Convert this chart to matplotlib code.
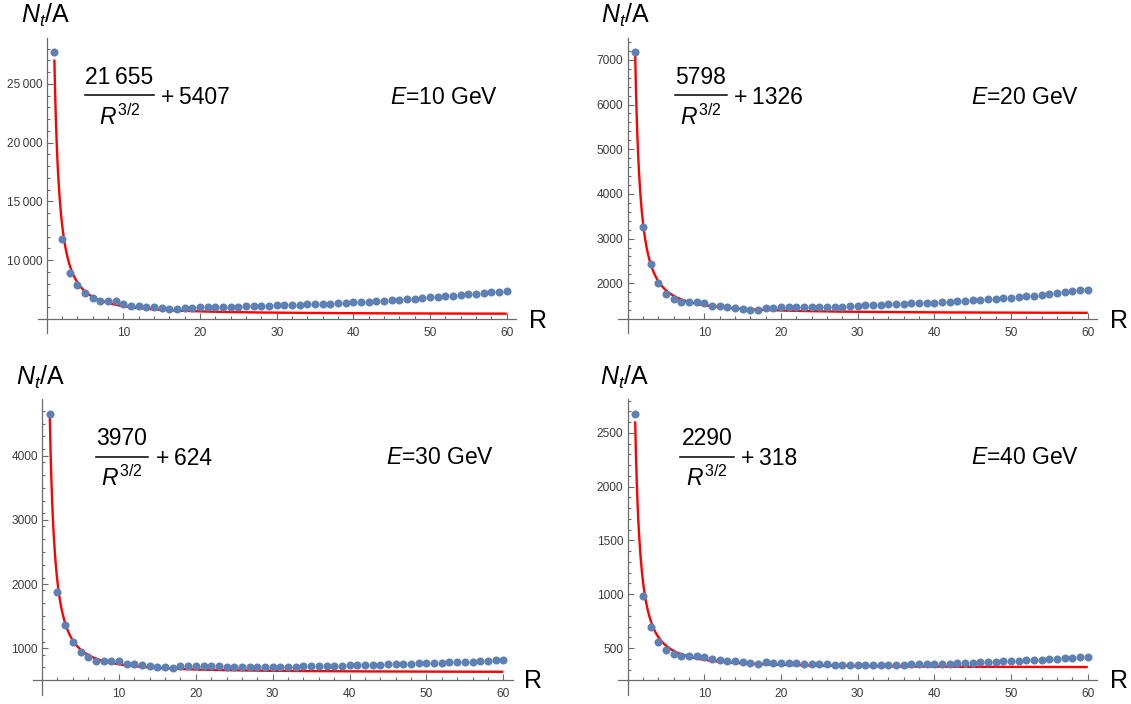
import numpy as np
import matplotlib
matplotlib.use("Agg")
import matplotlib.pyplot as plt
from matplotlib.ticker import FixedLocator
from matplotlib.lines import Line2D

plt.rcParams['font.family'] = ['Liberation Sans', 'DejaVu Sans']
plt.rcParams['mathtext.fontset'] = 'custom'
plt.rcParams['mathtext.rm'] = 'Liberation Sans'
plt.rcParams['mathtext.it'] = 'Liberation Sans:italic'
plt.rcParams['mathtext.bf'] = 'Liberation Sans:bold'

R = list(range(1, 61))

energies = [10, 20, 30, 40]
fit_a = [21655, 5798, 3970, 2290]
fit_b = [5407, 1326, 624, 318]
fit_a_text = ["21\u2009655", "5798", "3970", "2290"]

n_e10 = [27700, 11800, 8880, 7850, 7210, 6810, 6560, 6490, 6490, 6300,
         6120, 6100, 6010, 5980, 5900, 5860, 5810, 5950, 5950, 6010,
         6010, 6030, 6030, 6040, 6060, 6080, 6090, 6110, 6130, 6150,
         6170, 6190, 6210, 6240, 6260, 6290, 6310, 6340, 6370, 6410,
         6440, 6480, 6520, 6560, 6600, 6640, 6690, 6730, 6780, 6830,
         6880, 6930, 6980, 7040, 7090, 7150, 7210, 7270, 7330, 7400]
n_e20 = [7180, 3250, 2430, 2010, 1770, 1655, 1590, 1575, 1575, 1550,
         1500, 1485, 1460, 1445, 1425, 1410, 1410, 1455, 1455, 1470,
         1470, 1465, 1462, 1462, 1470, 1470, 1472, 1478, 1485, 1498,
         1505, 1512, 1520, 1528, 1535, 1542, 1548, 1555, 1560, 1566,
         1575, 1585, 1595, 1605, 1615, 1625, 1637, 1648, 1660, 1672,
         1690, 1707, 1725, 1742, 1760, 1778, 1797, 1817, 1838, 1860]
n_e30 = [4650, 1875, 1360, 1095, 948, 860, 808, 795, 805, 795,
         755, 750, 735, 720, 705, 700, 690, 730, 725, 730,
         730, 725, 717, 712, 712, 707, 705, 700, 705, 705,
         708, 712, 712, 717, 717, 720, 722, 725, 728, 733,
         736, 739, 742, 745, 750, 753, 756, 759, 762, 766,
         770, 774, 778, 782, 786, 791, 797, 803, 810, 818]
n_e40 = [2680, 980, 700, 559, 486, 440, 428, 422, 428, 416,
         400, 391, 381, 375, 369, 359, 353, 366, 359, 359,
         362, 356, 350, 350, 350, 347, 344, 341, 341, 344,
         341, 341, 344, 344, 344, 344, 347, 347, 350, 350,
         352, 353, 356, 359, 362, 366, 369, 372, 375, 378,
         381, 384, 388, 391, 396, 400, 405, 410, 415, 420]
series = [n_e10, n_e20, n_e30, n_e40]

x_major = [10, 20, 30, 40, 50, 60]
y_major = [[10000, 15000, 20000, 25000],
           [2000, 3000, 4000, 5000, 6000, 7000],
           [1000, 2000, 3000, 4000],
           [500, 1000, 1500, 2000, 2500]]
y_minor_step = [1000, 200, 200, 100]
y_origin = [5000, 1200, 500, 200]
y_lims = [(3784, 28870), (880, 7482), (271, 4878), (63, 2813)]

W, H = 1131, 704
fig = plt.figure(figsize=(W / 100, H / 100), dpi=100)

# panel boxes in pixels: left, top, right, bottom
boxes = [(37.5, 38.3, 516.0, 333.3), (618.3, 38.3, 1097.0, 333.3),
         (32.9, 399.3, 512.5, 695.0), (618.3, 399.3, 1097.0, 695.0)]
# fraction layout (pixels)
line_x0 = [85.0, 674.7, 95.7, 680.2]
line_x1 = [154.0, 726.8, 148.2, 734.0]
line_y = [95.3, 95.3, 456.7, 456.7]
num_dy = -18.3
den_dy = 21.5
plus_x = [161.0, 734.0, 156.5, 741.0]
plus_dy = 1.8
e_x = [390, 971.5, 385.7, 971.5]
e_y = [97, 97, 458, 458]
ylab_x = [20.7, 600.8, 16.0, 600.0]
ylab_y = [15, 15, 377, 377]
rlab_x = [528.6, 1110, 524, 1110]
rlab_y = [321, 321, 681, 681]

def fx(x):
    return x / W

def fy(y):
    return 1 - y / H

axis_col = '#6b6b6b'
lab_col = '#3c3c3c'
dot_col = '#5E81B5'

def fmt(v):
    if v >= 10000:
        return f"{v:,}".replace(",", "\u2009")
    return str(v)

FS = 16.5

for i in range(4):
    l, t, r, b = boxes[i]
    ax = fig.add_axes([fx(l), fy(b), (r - l) / W, (b - t) / H])
    ax.set_xlim(-1.2, 61.2)
    ax.set_ylim(*y_lims[i])
    for s in ['top', 'right']:
        ax.spines[s].set_visible(False)
    ax.spines['left'].set_position(('data', 0))
    ax.spines['bottom'].set_position(('data', y_origin[i]))
    for s in ['left', 'bottom']:
        ax.spines[s].set_color(axis_col)
        ax.spines[s].set_linewidth(0.9)
    ax.set_facecolor('none')

    rr = np.linspace(1, 60, 600)
    ax.plot(rr, fit_a[i] / rr ** 1.5 + fit_b[i], color='#FF0000', lw=1.7, zorder=2,
            solid_capstyle='butt')
    ax.plot(R, series[i], 'o', color=dot_col, ms=5.8, mew=0, zorder=3)

    ax.xaxis.set_major_locator(FixedLocator(x_major))
    ax.xaxis.set_minor_locator(FixedLocator([v for v in range(2, 61, 2) if v % 10]))
    ax.set_xticklabels([str(v) for v in x_major])
    ax.yaxis.set_major_locator(FixedLocator(y_major[i]))
    step = y_minor_step[i]
    top = y_lims[i][1]
    minors = [v for v in np.arange(y_origin[i] + step, top, step) if v not in y_major[i]]
    ax.yaxis.set_minor_locator(FixedLocator(minors))
    ax.set_yticklabels([fmt(v) for v in y_major[i]])
    ax.tick_params(which='both', direction='in', color=axis_col, width=0.8,
                   labelcolor=lab_col, labelsize=8.6)
    ax.tick_params(which='major', length=4.2)
    ax.tick_params(which='minor', length=2.2)
    ax.tick_params(axis='x', which='major', pad=5.5)
    ax.tick_params(axis='y', which='major', pad=3)

    cx = 0.5 * (line_x0[i] + line_x1[i])
    ly = line_y[i]
    fig.text(fx(cx), fy(ly + num_dy), fit_a_text[i], fontsize=FS,
             ha='center', va='center', color='black')
    fig.add_artist(Line2D([fx(line_x0[i]), fx(line_x1[i])], [fy(ly), fy(ly)],
                          transform=fig.transFigure, color='black', lw=1.1))
    fig.text(fx(cx), fy(ly + den_dy), r'$R^{3/2}$', fontsize=FS,
             ha='center', va='center', color='black')
    fig.text(fx(plus_x[i]), fy(ly + plus_dy), f'+\u2009{fit_b[i]}', fontsize=FS,
             ha='left', va='center', color='black')
    fig.text(fx(e_x[i]), fy(e_y[i]), r'$E$=%d GeV' % energies[i],
             fontsize=FS, ha='left', va='center', color='black')
    fig.text(fx(ylab_x[i]), fy(ylab_y[i]), r'$N_t$/A', fontsize=18,
             ha='left', va='center', color='black')
    fig.text(fx(rlab_x[i]), fy(rlab_y[i]), 'R', fontsize=18,
             ha='left', va='center', color='black')

fig.savefig('out.png', dpi=100)
